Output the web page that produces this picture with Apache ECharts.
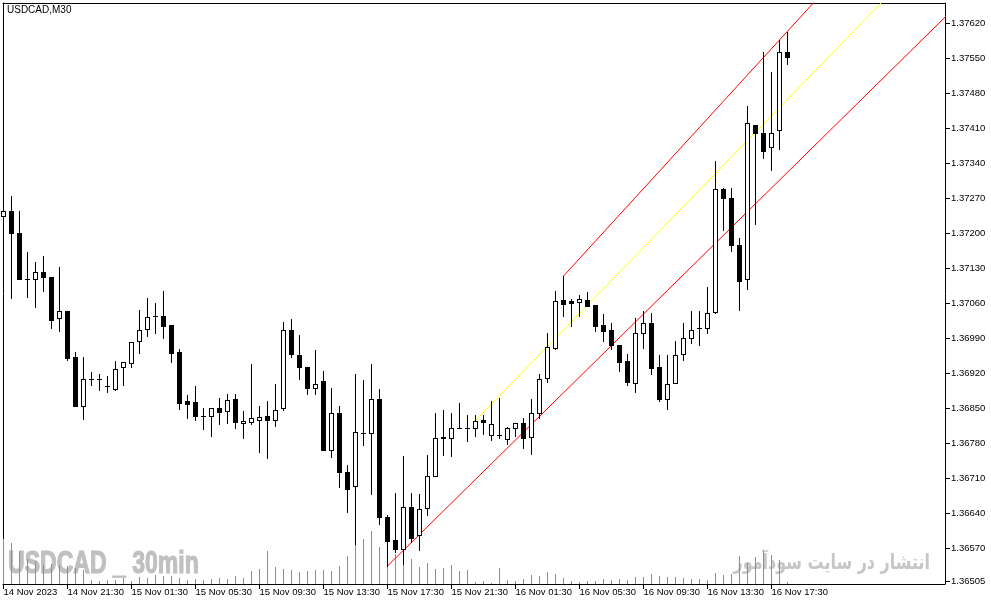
<!DOCTYPE html>
<html><head><meta charset="utf-8">
<script src="https://cdn.jsdelivr.net/npm/echarts@6/dist/echarts.min.js"></script>
<style>html,body{margin:0;padding:0;background:#fff}#c{width:991px;height:605px}</style>
</head><body><div id="c"></div>
<script>
const timeLabels = ["14 Nov 2023","14 Nov 21:30","15 Nov 01:30","15 Nov 05:30","15 Nov 09:30","15 Nov 13:30","15 Nov 17:30","15 Nov 21:30","16 Nov 01:30","16 Nov 05:30","16 Nov 09:30","16 Nov 13:30","16 Nov 17:30"];
const timeLabelIdx = [0,8,16,24,32,40,48,56,64,72,80,88,96];
const priceTicks = [1.36505,1.36570,1.36640,1.36710,1.36780,1.36850,1.36920,1.36990,1.37060,1.37130,1.37200,1.37270,1.37340,1.37410,1.37480,1.37550,1.37620];

const opens = [
1.37236,1.37245,1.37200,1.37110,1.37110,1.37122,1.37114,1.37030,1.37044,1.36952,
1.36855,1.36908,1.36908,1.36894,1.36889,1.36932,1.36941,1.36985,1.37009,1.37036,
1.37036,1.37016,1.36962,1.36865,1.36863,1.36836,1.36835,1.36850,1.36846,1.36869,
1.36822,1.36824,1.36828,1.36836,1.36828,1.36850,1.37008,1.36958,1.36934,1.36892,
1.36905,1.36766,1.36842,1.36722,1.36694,1.36802,1.36802,1.36870,1.36633,1.36587,
1.36569,1.36653,1.36596,1.36650,1.36716,1.36793,1.36792,1.36812,1.36812,1.36810,
1.36827,1.36796,1.36796,1.36790,1.36810,1.36820,1.36794,1.36840,1.36912,1.36971,
1.37067,1.37065,1.37063,1.37067,1.37057,1.37017,1.37007,1.36977,1.36945,1.36901,
1.37002,1.37020,1.36932,1.36869,1.36901,1.36959,1.36991,1.37010,1.37010,1.37043,
1.37290,1.37272,1.37176,1.37108,1.37416,1.37400,1.37372,1.37406,1.37562];
const closes = [
1.37245,1.37200,1.37109,1.37110,1.37122,1.37113,1.37027,1.37044,1.36951,1.36855,
1.36908,1.36908,1.36908,1.36894,1.36930,1.36942,1.36982,1.37008,1.37034,1.37036,
1.37015,1.36961,1.36860,1.36859,1.36836,1.36836,1.36850,1.36843,1.36868,1.36823,
1.36826,1.36830,1.36833,1.36827,1.36848,1.37006,1.36960,1.36933,1.36892,1.36898,
1.36767,1.36842,1.36723,1.36689,1.36804,1.36802,1.36870,1.36633,1.36585,1.36569,
1.36653,1.36592,1.36649,1.36716,1.36792,1.36791,1.36810,1.36812,1.36810,1.36826,
1.36823,1.36819,1.36796,1.36810,1.36820,1.36792,1.36840,1.36910,1.36972,1.37065,
1.37059,1.37061,1.37069,1.37055,1.37015,1.37005,1.36977,1.36943,1.36903,1.37002,
1.37020,1.36931,1.36869,1.36900,1.36958,1.36992,1.37008,1.37010,1.37042,1.37288,
1.37272,1.37178,1.37105,1.37420,1.37402,1.37365,1.37402,1.37562,1.37552];
const lows = [
1.37207,1.37072,1.37108,1.37073,1.37053,1.37085,1.37011,1.37005,1.36947,1.36855,
1.36829,1.36897,1.36887,1.36883,1.36887,1.36897,1.36933,1.36961,1.36995,1.37001,
1.36991,1.36943,1.36849,1.36831,1.36827,1.36809,1.36795,1.36819,1.36821,1.36811,
1.36791,1.36819,1.36763,1.36751,1.36815,1.36847,1.36952,1.36908,1.36878,1.36879,
1.36767,1.36752,1.36693,1.36643,1.36580,1.36777,1.36680,1.36619,1.36535,1.36563,
1.36539,1.36583,1.36568,1.36638,1.36716,1.36757,1.36755,1.36810,1.36785,1.36795,
1.36799,1.36787,1.36792,1.36780,1.36795,1.36771,1.36760,1.36832,1.36903,1.36969,
1.37035,1.37015,1.37035,1.37055,1.37005,1.36985,1.36969,1.36926,1.36897,1.36883,
1.36971,1.36919,1.36865,1.36849,1.36901,1.36947,1.36981,1.36977,1.37001,1.37040,
1.37206,1.37165,1.37048,1.37089,1.37219,1.37351,1.37327,1.37370,1.37539];
const highs = [
1.37347,1.37275,1.37245,1.37163,1.37143,1.37155,1.37114,1.37133,1.37044,1.36964,
1.36953,1.36924,1.36919,1.36915,1.36945,1.36942,1.36982,1.37047,1.37071,1.37061,
1.37085,1.37016,1.36970,1.36877,1.36895,1.36851,1.36850,1.36872,1.36880,1.36880,
1.36846,1.36939,1.36855,1.36865,1.36900,1.37023,1.37029,1.36997,1.36934,1.36967,
1.36925,1.36892,1.36854,1.36738,1.36919,1.36907,1.36939,1.36890,1.36638,1.36681,
1.36755,1.36681,1.36678,1.36757,1.36841,1.36847,1.36841,1.36861,1.36837,1.36837,
1.36837,1.36865,1.36871,1.36814,1.36822,1.36830,1.36870,1.36919,1.37000,1.37085,
1.37115,1.37069,1.37077,1.37083,1.37057,1.37039,1.37021,1.36977,1.36959,1.37030,
1.37044,1.37040,1.36958,1.36958,1.36985,1.37020,1.37044,1.37044,1.37093,1.37345,
1.37292,1.37292,1.37191,1.37455,1.37418,1.37562,1.37523,1.37586,1.37604];
const volumes = [
900,814,660,500,460,374,400,380,354,320,
280,86,66,86,86,126,66,146,114,186,
166,166,126,86,106,86,106,126,106,166,
126,266,306,654,346,306,286,246,266,286,
286,266,366,566,814,906,1066,746,360,606,
386,506,346,426,306,326,386,266,286,46,
66,26,326,86,66,106,186,166,246,206,
126,66,46,66,66,106,86,106,86,146,
146,206,166,146,146,126,106,106,86,226,
186,206,566,426,546,666,586,486,46];

const upperChannel = [[70,1.37115],[105,1.37727]];
const middleChannel = [[59,1.36826],[112,1.37699]];
const lowerChannel = [[48,1.36535],[120,1.37669]];

const candleData = opens.map((o,i)=>[i,o,closes[i],lows[i],highs[i]]);
const volumeData = volumes.map((v,i)=>[i,v]);

const FONT = "'Liberation Sans', Arial, sans-serif";

function renderCandle(params, api){
  const i=api.value(0), o=api.value(1), c=api.value(2), l=api.value(3), h=api.value(4);
  const pO=api.coord([i,o]), pC=api.coord([i,c]), pL=api.coord([i,l]), pH=api.coord([i,h]);
  const px=Math.floor(pO[0]);
  const yH=Math.round(pH[1]), yL=Math.round(pL[1]);
  const yO=Math.round(pO[1]), yC=Math.round(pC[1]);
  const bt=Math.min(yO,yC), bb=Math.max(yO,yC);
  const ch=[{type:'rect',shape:{x:px,y:yH,width:1,height:yL-yH+1},style:{fill:'#000'}},
            {type:'rect',shape:{x:px-2,y:bt,width:5,height:bb-bt+1},style:{fill:'#000'}}];
  if (c>o && bb-bt>=2) ch.push({type:'rect',shape:{x:px-1,y:bt+1,width:3,height:bb-bt-1},style:{fill:'#fff'}});
  return {type:'group',children:ch};
}
function renderVolume(params, api){
  const i=api.value(0), v=api.value(1);
  const t=api.coord([i,v]), b=api.coord([i,0]);
  const px=Math.floor(t[0]);
  const yt=Math.round(t[1]), yb=Math.round(b[1]);
  return {type:'rect',shape:{x:px,y:yt,width:1,height:yb-yt},style:{fill:'#32cd32'}};
}

const chart = echarts.init(document.getElementById('c'));
chart.setOption({
  animation:false,
  backgroundColor:'#fff',
  grid:{left:3,top:3,right:46,bottom:21,containLabel:false},
  xAxis:[{
    type:'value',min:-0.0625,max:117.6875,position:'bottom',
    axisLine:{show:true,onZero:false,lineStyle:{color:'#000',width:1}},
    axisTick:{show:true,customValues:timeLabelIdx,length:5,lineStyle:{color:'#000'}},
    axisLabel:{show:true,customValues:timeLabelIdx,align:'left',margin:3,
      fontSize:9.5,fontFamily:FONT,color:'#000',
      formatter:v=>timeLabels[timeLabelIdx.indexOf(Math.round(v))]||''},
    splitLine:{show:false}
  },{
    type:'value',min:-0.0625,max:117.6875,position:'top',
    axisLine:{show:true,onZero:false,lineStyle:{color:'#000',width:1}},
    axisTick:{show:false},axisLabel:{show:false},splitLine:{show:false}
  }],
  yAxis:[{
    type:'value',min:1.36499,max:1.37661,position:'right',
    axisLine:{show:true,onZero:false,lineStyle:{color:'#000',width:1}},
    axisTick:{show:true,customValues:priceTicks,length:5,lineStyle:{color:'#000'}},
    axisLabel:{show:true,customValues:priceTicks,margin:6,fontSize:9.5,fontFamily:FONT,color:'#000',
      formatter:v=>v.toFixed(5)},
    splitLine:{show:false}
  },{
    type:'value',min:0,max:11620,position:'left',
    axisLine:{show:true,onZero:false,lineStyle:{color:'#000',width:1}},
    axisTick:{show:false},axisLabel:{show:false},splitLine:{show:false}
  }],
  graphic:{elements:[
    {type:'text',x:7,y:5,z:10,silent:true,style:{text:'USDCAD,M30',font:'10px '+FONT,fill:'#000',textVerticalAlign:'top'}},
    {type:'text',x:8,y:564,z:0,scaleX:0.72,silent:true,style:{text:'USDCAD _ 30min',font:'bold 32px '+FONT,fill:'#c0c0c0',stroke:'#bcbcbc',lineWidth:1.2,textVerticalAlign:'middle'}},
    {type:'text',x:930,y:564,z:0,scaleX:0.76,silent:true,style:{text:'انتشار در سایت سودآموز',font:"bold 21px 'DejaVu Sans', sans-serif",fill:'#c6c6c6',textAlign:'right',textVerticalAlign:'middle'}}
  ]},
  series:[
    {type:'custom',name:'volume',xAxisIndex:0,yAxisIndex:1,z:2,silent:true,renderItem:renderVolume,data:volumeData},
    {type:'line',xAxisIndex:0,yAxisIndex:0,z:3,silent:true,showSymbol:false,clip:true,lineStyle:{color:'#ff0000',width:1},data:upperChannel},
    {type:'line',xAxisIndex:0,yAxisIndex:0,z:3,silent:true,showSymbol:false,clip:true,lineStyle:{color:'#ffff00',width:1},data:middleChannel},
    {type:'line',xAxisIndex:0,yAxisIndex:0,z:3,silent:true,showSymbol:false,clip:true,lineStyle:{color:'#ff0000',width:1},data:lowerChannel},
    {type:'custom',name:'USDCAD',xAxisIndex:0,yAxisIndex:0,z:4,silent:true,renderItem:renderCandle,
      encode:{x:0,y:[1,2,3,4]},data:candleData}
  ]
});
</script></body></html>
